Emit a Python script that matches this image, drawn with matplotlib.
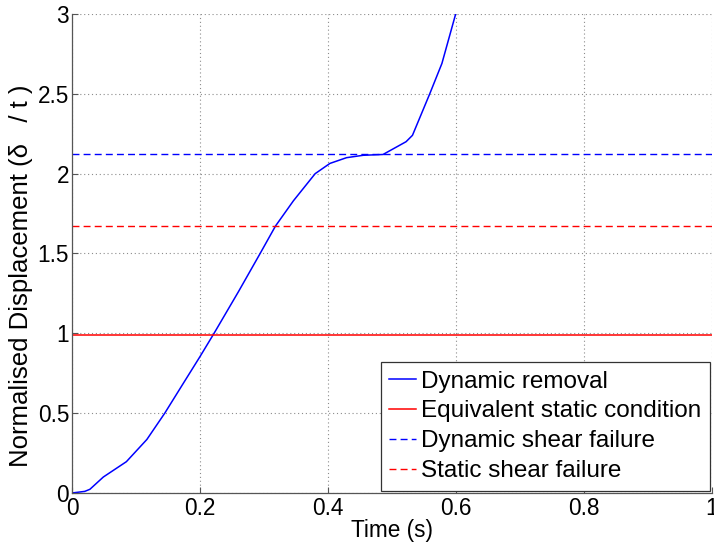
import numpy as np
import matplotlib
matplotlib.use("Agg")
import matplotlib.pyplot as plt

plt.rcParams['font.family'] = ['Liberation Sans', 'DejaVu Sans']

# Dynamic removal response (normalised displacement vs time)
time_s = [0.0, 0.02, 0.028, 0.049, 0.085, 0.117, 0.145, 0.174, 0.200, 0.222,
          0.260, 0.294, 0.318, 0.346, 0.380, 0.403, 0.429, 0.455, 0.486,
          0.522, 0.532, 0.559, 0.578, 0.5995, 0.61]
disp_norm = [0.0, 0.01, 0.023, 0.10, 0.196, 0.335, 0.50, 0.687, 0.854, 1.0,
             1.26, 1.50, 1.672, 1.83, 2.00, 2.064, 2.10, 2.115, 2.12,
             2.20, 2.24, 2.50, 2.69, 3.0, 3.07]

equiv_static = 0.99
dynamic_shear = 2.12
static_shear = 1.674

fig = plt.figure(figsize=(7.14, 5.48), dpi=100)
ax = fig.add_axes([0.1008, 0.1004, 0.8964, 0.8741])

ax.plot(time_s, disp_norm, color='#0000ff', lw=1.1, label='Dynamic removal')
ax.axhline(equiv_static, color='#ff0000', lw=1.1, label='Equivalent static condition')
ax.axhline(dynamic_shear, color='#0000ff', lw=1.0, ls=(0, (5, 3)), label='Dynamic shear failure')
ax.axhline(static_shear, color='#ff0000', lw=1.0, ls=(0, (5, 3)), label='Static shear failure')

ax.set_xlim(0, 1)
ax.set_ylim(0, 3)
ax.set_xticks([0, 0.2, 0.4, 0.6, 0.8, 1])
ax.set_xticklabels(['0', '0.2', '0.4', '0.6', '0.8', '1'])
ax.set_yticks([0, 0.5, 1, 1.5, 2, 2.5, 3])
ax.set_yticklabels(['0', '0.5', '1', '1.5', '2', '2.5', '3'])

ax.grid(True, color='#8c8c8c', ls=(0, (1, 2.5)), lw=0.8)
for side in ['top', 'right']:
    ax.spines[side].set_visible(False)
for side in ['left', 'bottom']:
    ax.spines[side].set_color('#555555')
    ax.spines[side].set_linewidth(0.9)
ax.tick_params(direction='in', length=4, width=0.8, color='#555555',
               labelsize=16.3)
ax.tick_params(axis='x', pad=3)
ax.tick_params(axis='y', pad=2)

ax.set_xlabel('Time (s)', fontsize=16.3, labelpad=-1)
ax.set_ylabel('Normalised Displacement (δ   / t )', fontsize=18.5)
ax.yaxis.set_label_coords(-0.061, 0.454)

leg = ax.legend(loc='lower right', fontsize=17.5, handlelength=1.1,
                handletextpad=0.2, borderpad=0.35, labelspacing=0.32,
                borderaxespad=0.1, fancybox=False, framealpha=1)
leg.get_frame().set_edgecolor('#333333')
leg.get_frame().set_linewidth(0.9)

fig.savefig('out.png', dpi=100)
